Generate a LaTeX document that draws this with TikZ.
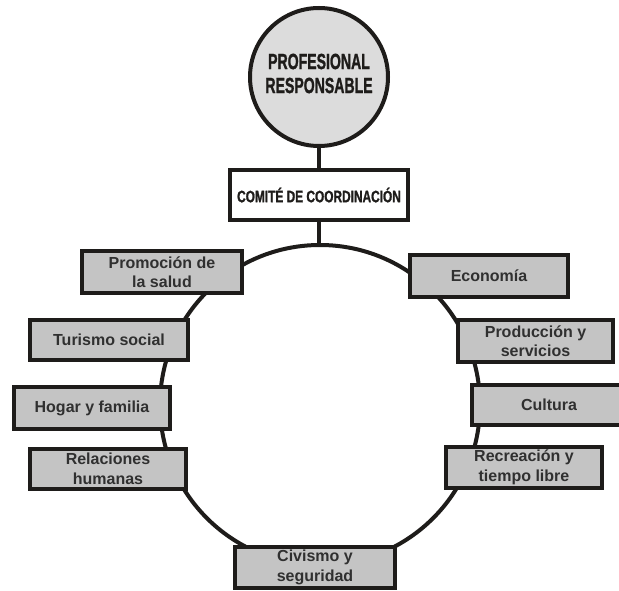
\documentclass[tikz,border=0pt]{standalone}
\usepackage{fontspec}
\setmainfont{Liberation Sans}
\newfontfamily\headfont[FakeBold=1.6]{Liberation Sans Bold}
\usepackage{graphicx}
\definecolor{linec}{HTML}{1E1C1A}
\definecolor{boxfill}{HTML}{C4C4C4}
\definecolor{circfill}{HTML}{DCDCDC}
\definecolor{textc}{HTML}{303030}
\begin{document}
\begin{tikzpicture}[x=1pt,y=-1pt,
  conn/.style={draw=linec, line width=4pt},
  box/.style={draw=linec, fill=boxfill, line width=4pt, inner sep=0pt, align=center,
    font=\bfseries\fontsize{16}{19.5}\selectfont, text=textc}]
\useasboundingbox (0,0) rectangle (619,591);
\clip (0,0) rectangle (619,591);
\coordinate (ringc) at (320,405);
\draw[conn] (ringc) circle[radius=160];

\node[circle, draw=linec, fill=circfill, line width=4pt, minimum size=138pt, inner sep=0pt,
  label={[yshift=3.5pt, align=center, font=\headfont\fontsize{22}{24}\selectfont, text=linec]center:{\scalebox{0.64}[1]{PROFESIONAL}\\\scalebox{0.64}[1]{RESPONSABLE}}}] (prof) at (319,77) {};
\node[draw=linec, fill=white, line width=4pt, minimum width=178pt, minimum height=50pt, inner sep=0pt,
  font=\headfont\fontsize{16.5}{18}\selectfont, text=linec] (comite) at (319,195)
  {\scalebox{0.72}[1]{COMITÉ DE COORDINACIÓN}};
\coordinate (ringtop) at (319,246);
\draw[conn] (prof) -- (comite);
\draw[conn] (comite) -- (ringtop);

\node[box, minimum width=160pt, minimum height=42pt] (promo) at (162,272) {Promoción de\\la salud};
\node[box, minimum width=158pt, minimum height=40pt] (turismo) at (109,340) {Turismo social};
\node[box, minimum width=156pt, minimum height=42pt] (hogar) at (92,408) {Hogar y familia};
\node[box, minimum width=156pt, minimum height=40pt] (relac) at (108,469) {Relaciones\\humanas};
\node[box, minimum width=160pt, minimum height=41pt] (civismo) at (315,567.5) {Civismo y\\seguridad};
\node[box, minimum width=156pt, minimum height=41pt] (recre) at (524,467.5) {Recreación y\\tiempo libre};
\node[box, minimum width=154pt, minimum height=40pt] (cultura) at (549,405) {Cultura};
\node[box, minimum width=155pt, minimum height=42pt] (produc) at (535.5,341) {Producción y\\servicios};
\node[box, minimum width=158pt, minimum height=42pt] (econ) at (489,276) {Economía};
\end{tikzpicture}
\end{document}
